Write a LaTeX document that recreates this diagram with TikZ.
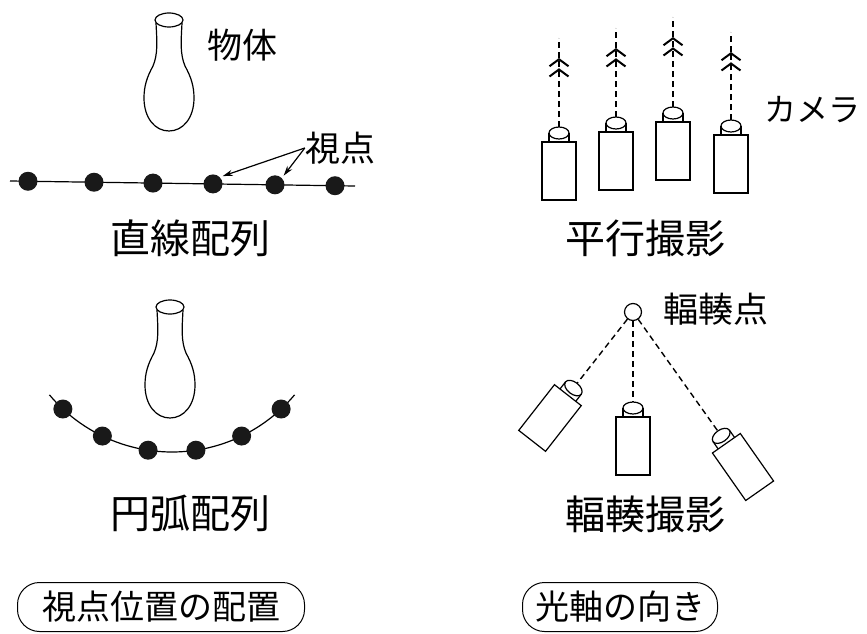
\documentclass[tikz,border=0pt]{standalone}
\usepackage{fontspec}
\newfontfamily\jpfont{Noto Sans CJK JP}
\usetikzlibrary{arrows.meta,calc}

\tikzset{
  jtext/.style={font=\jpfont\fontsize{35}{42}\selectfont, inner sep=0pt},
  caption/.style={font=\jpfont\fontsize{40}{46}\selectfont, inner sep=0pt},
  dot/.style={circle, fill=black!90, inner sep=0pt, minimum size=19pt},
  optaxis/.style={dash pattern=on 6pt off 4pt, line width=1.4pt},
  chevrons/.style={-{Straight Barb[length=7pt,width=19pt,line width=2pt,sep=1pt]
    Straight Barb[length=7pt,width=19pt,line width=2pt]}},
  pointer/.style={-{Stealth[length=10pt,width=6pt]}, line width=1.2pt},
  tagbox/.style={draw, rounded corners=22pt, line width=1pt, minimum height=49pt,
    font=\jpfont\fontsize{34}{40}\selectfont, inner sep=0pt},
  vase/.pic={
    \draw[line width=1.2pt] (0,0) ellipse [x radius=14, y radius=7];
    \draw[line width=1.2pt] (-13,3) .. controls (-12,22) and (-11,34) .. (-16,46)
      .. controls (-22,57) and (-25,66) .. (-25,78)
      .. controls (-25,98) and (-14,111) .. (0,111)
      .. controls (14,111) and (25,98) .. (25,78)
      .. controls (25,66) and (22,57) .. (16,46)
      .. controls (11,34) and (12,22) .. (13,3);
  },
  camera/.pic={
    \draw[line width=1.2pt] (-17,-29) rectangle (17,29);
    \draw[line width=1.2pt] (-10,-29) -- (-10,-38) (10,-29) -- (10,-38);
    \draw[line width=1.2pt] (0,-38) ellipse [x radius=10, y radius=6];
    \coordinate (-top) at (0,-44);
  }
}

\begin{document}
\begin{tikzpicture}[x=1pt, y=-1pt]
\path[use as bounding box, fill=white] (0,0) rectangle (867,634);

% linear array
\pic (obj1) at (169,20) {vase};
\node[jtext] (objlbl) at (242,45) {物体};
\draw[line width=1.2pt] (10,181) -- (355,186);
\foreach \i/\x in {1/28, 2/94, 3/153, 4/213, 5/275, 6/335}
  \node[dot] (d\i) at (\x,{181+(\x-10)*0.0145}) {};
\node[jtext] (vp) at (340,148) {視点};
\draw[pointer, shorten >=3pt] (vp.west) -- (d4.north east);
\draw[pointer, shorten >=3pt] (vp.west) -- (d5.north east);
\node[caption] (linlbl) at (190,238) {直線配列};

% arc array
\pic (obj2) at (170,307) {vase};
\coordinate (arcc) at (172,292);
\draw[line width=1.2pt] ($(arcc)+(140:160)$) arc[start angle=140, end angle=40, radius=160];
\foreach \a [count=\i] in {133,115.8,98.6,81.4,64.2,47}
  \node[dot] (e\i) at ($(arcc)+(\a:160)$) {};
\node[caption] (arclbl) at (190,513) {円弧配列};

% parallel shooting
\foreach \i/\x/\y/\t in {1/559/171/38, 2/616/161/28, 3/673/151/17, 4/731/164/32} {
  \pic (p\i) at (\x,\y) {camera};
  \coordinate (pa\i) at (\x,{\t+20});
  \coordinate (pt\i) at (\x,\t);
  \draw[optaxis, chevrons] (p\i-top) -- (pa\i);
  \draw[optaxis] (pa\i) -- (pt\i);
}
\node[font=\jpfont\fontsize{32}{38}\selectfont, inner sep=0pt] (camlbl) at (812,110) {カメラ};
\node[caption] (parlbl) at (645,238) {平行撮影};

% converging shooting
\node[circle, draw, line width=1.2pt, minimum size=17pt, inner sep=0pt] (conv) at (633,312) {};
\node[jtext] (convlbl) at (716,309) {輻輳点};
\pic[rotate=-38] (cl) at (550,418) {camera};
\pic (cm) at (633,446) {camera};
\pic[rotate=35] (cr) at (743,467) {camera};
\draw[optaxis] (conv) -- (cl-top);
\draw[optaxis] (conv) -- (cm-top);
\draw[optaxis] (conv) -- (cr-top);
\node[caption] (cnvlbl) at (645,514) {輻輳撮影};

% captions
\node[tagbox, minimum width=287pt] (tag1) at (161,607) {視点位置の配置};
\node[tagbox, minimum width=195pt] (tag2) at (620,607) {光軸の向き};
\end{tikzpicture}
\end{document}
